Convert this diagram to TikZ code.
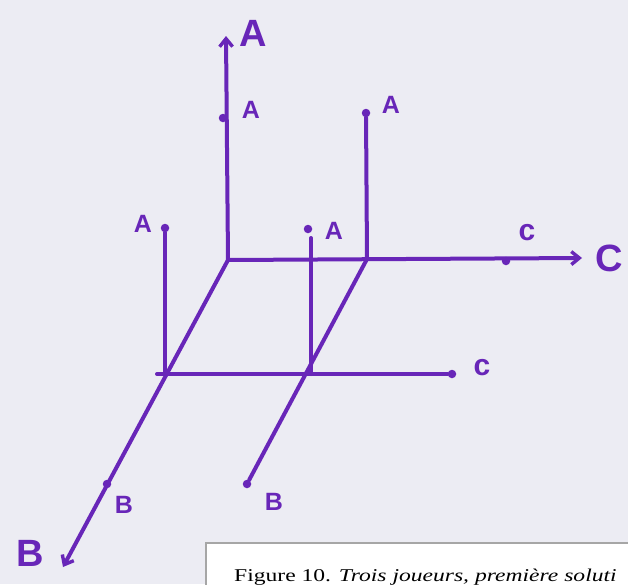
\documentclass[tikz,border=0pt]{standalone}
\usepackage{fontspec}
\setmainfont{Liberation Serif}
\newfontfamily\handfont{Liberation Sans}
\usetikzlibrary{arrows.meta}
\definecolor{pen}{RGB}{104,38,184}
\definecolor{paper}{RGB}{236,236,243}
\tikzset{
  axis/.style={draw=pen,line width=4pt,line cap=round},
  tip/.style={-{Straight Barb[length=8pt,width=13pt,line width=3.4pt]}},
  dot/.style={circle,fill=pen,inner sep=0pt,minimum size=8.5pt},
  lab/.style={text=pen,inner sep=0pt,font=\handfont\bfseries\fontsize{25}{25}\selectfont},
  biglab/.style={text=pen,inner sep=0pt,font=\handfont\bfseries\fontsize{38}{38}\selectfont},
}

\begin{document}
\begin{tikzpicture}[x=1pt,y=-1pt]
                      \fill[paper] (0,0) rectangle (628,584);
                      \clip (0,0) rectangle (628,584);
                      \fill[white] (206,543) rectangle (640,600);
                      \draw[black!35,line width=1.6pt] (206,600) -- (206,543) -- (640,543);
                      \node[anchor=base west,inner sep=0pt,font=\fontsize{18}{18}\selectfont]
                        (Caption) at (234,581) {\scalebox{1.31}[1]{Figure 10. \textit{Trois joueurs, première soluti}}};
                      \coordinate (O) at (228,260);
                      \coordinate (Atip) at (226,36);
                      \coordinate (Ctip) at (582,258);
                      \coordinate (Btip) at (63,567);
                      \coordinate (Q) at (367,259);
                      \coordinate (L0) at (157,374);
                      \coordinate (P1) at (165,374);
                      \coordinate (M0) at (311,238);
                      \coordinate (P2) at (311,374);
                      \node[dot] (D1) at (223,118) {};
                      \node[dot] (D2) at (366,113) {};
                      \node[dot] (D3) at (165,228) {};
                      \node[dot] (D4) at (308,229) {};
                      \node[dot] (F1) at (506,261) {};
                      \node[dot] (F2) at (452,374) {};
                      \node[dot] (E1) at (107,484) {};
                      \node[dot] (E2) at (247,484) {};
                      \node[biglab] (LA) at (253,33) {A};
                      \node[biglab] (LC) at (609,258) {C};
                      \node[biglab] (LB) at (30,553) {B};
                      \node[lab] (A1) at (251,110) {A};
                      \node[lab] (A2) at (391,105) {A};
                      \node[lab] (A3) at (143,224) {A};
                      \node[lab] (A4) at (334,231) {A};
                      \node[lab,font=\handfont\bfseries\fontsize{30}{30}\selectfont] (C1) at (527,233) {c};
                      \node[lab,font=\handfont\bfseries\fontsize{30}{30}\selectfont] (C2) at (482,368) {c};
                      \node[lab] (B1) at (124,505) {B};
                      \node[lab] (B2) at (274,502) {B};
                      \draw[axis,tip] (O) -- (Atip);
                      \draw[axis,tip] (O) -- (Ctip);
                      \draw[axis,tip] (O) -- (Btip);
                      \draw[axis] (Q) -- (D2) (Q) -- (E2);
                      \draw[axis] (L0) -- (F2);
                      \draw[axis] (D3) -- (P1) (M0) -- (P2);
                    \end{tikzpicture}
\end{document}
